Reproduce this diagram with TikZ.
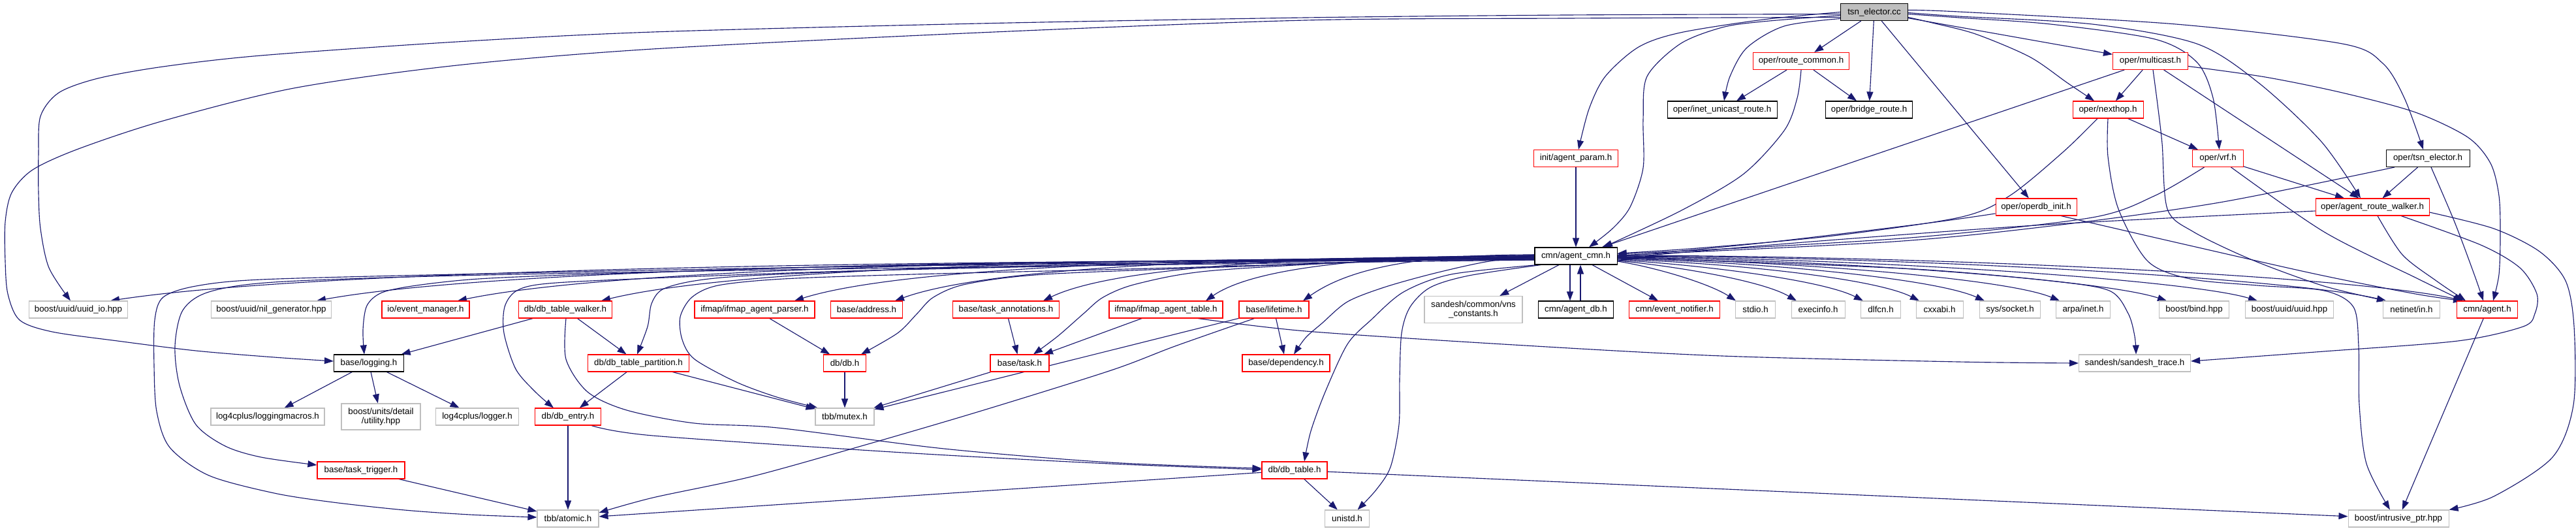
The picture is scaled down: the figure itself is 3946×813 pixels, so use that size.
\documentclass[tikz,border=0pt]{standalone}
\usepackage{fontspec}
\setmainfont{Liberation Sans}
\usetikzlibrary{arrows.meta,calc}
\definecolor{edgeblue}{HTML}{191970}
\definecolor{boxgray}{HTML}{BFBFBF}
\definecolor{boxred}{HTML}{FF0000}
\definecolor{tsnfill}{HTML}{BFBFBF}
\pgfdeclarelayer{bg}
\pgfdeclarelayer{paper}
\pgfsetlayers{paper,bg,main}
\tikzset{
  box/.style={draw, line width=0.8pt, fill=white, minimum height=19.5pt, inner sep=1pt, font=\fontsize{10}{11}\selectfont, align=center},
  rbox/.style={box, draw=boxred},
  kbox/.style={box, draw=black},
  gbox/.style={box, draw=boxgray},
  bw/.style={minimum width=#1*0.75pt},
  dep/.style={draw=edgeblue, line width=0.85pt, -{Triangle[length=10.5pt,width=7.5pt]}},
  sm/.style={smooth, tension=0.5}
}
\begin{document}
\begin{tikzpicture}[x=0.75pt, y=-0.75pt]
\useasboundingbox (0,0) rectangle (3946,813);
\begin{pgfonlayer}{paper}
\fill[white] (0,0) rectangle (3946,813);
\end{pgfonlayer}
% ---- nodes ----
\node[kbox, fill=tsnfill, bw=103] (T) at (2871,18.5) {tsn\_elector.cc};
\node[rbox, bw=147] (RC) at (2759,93.5) {oper/route\_common.h};
\node[rbox, bw=115] (MC) at (3294,93.5) {oper/multicast.h};
\node[kbox, bw=168] (IUR) at (2638,168) {oper/inet\_unicast\_route.h};
\node[kbox, bw=133] (BR) at (2863,168) {oper/bridge\_route.h};
\node[rbox, bw=108] (NH) at (3229,168) {oper/nexthop.h};
\node[rbox, bw=129] (AP) at (2414,242.5) {init/agent\_param.h};
\node[rbox, bw=78] (VRF) at (3397.5,242.5) {oper/vrf.h};
\node[kbox, bw=128] (TH) at (3719,242.5) {oper/tsn\_elector.h};
\node[rbox, bw=124] (OI) at (3119,317) {oper/operdb\_init.h};
\node[rbox, bw=174] (ARW) at (3634,317) {oper/agent\_route\_walker.h};
\node[kbox, bw=126] (AC) at (2414,392) {cmn/agent\_cmn.h};
% row 6
\node[gbox, bw=151] (UIO) at (120,474) {boost/uuid/uuid\_io.hpp};
\node[gbox, bw=184] (NIL) at (415.5,474) {boost/uuid/nil\_generator.hpp};
\node[rbox, bw=134] (EM) at (652,474) {io/event\_manager.h};
\node[rbox, bw=143] (DTW) at (866,474) {db/db\_table\_walker.h};
\node[rbox, bw=184] (IAP) at (1156,474) {ifmap/ifmap\_agent\_parser.h};
\node[rbox, bw=110] (ADDR) at (1327.5,474) {base/address.h};
\node[rbox, bw=163] (TA) at (1541,474) {base/task\_annotations.h};
\node[rbox, bw=174] (IAT) at (1786,474) {ifmap/ifmap\_agent\_table.h};
\node[rbox, bw=107] (LT) at (1951.5,474) {base/lifetime.h};
\node[gbox, bw=150, minimum height=30.75pt] (VNS) at (2257,474) {sandesh/common/vns\\\_constants.h};
\node[kbox, bw=115] (ADB) at (2414,474) {cmn/agent\_db.h};
\node[rbox, bw=139] (EN) at (2565,474) {cmn/event\_notifier.h};
\node[gbox, bw=61] (STDIO) at (2689,474) {stdio.h};
\node[gbox, bw=82] (EXEC) at (2785,474) {execinfo.h};
\node[gbox, bw=61] (DLFCN) at (2881,474) {dlfcn.h};
\node[gbox, bw=72] (CXX) at (2971,474) {cxxabi.h};
\node[gbox, bw=93] (SOCK) at (3079,474) {sys/socket.h};
\node[gbox, bw=83] (INET) at (3191,474) {arpa/inet.h};
\node[gbox, bw=107] (BIND) at (3361,474) {boost/bind.hpp};
\node[gbox, bw=135] (UUID) at (3507,474) {boost/uuid/uuid.hpp};
\node[gbox, bw=87] (NETIN) at (3694,474) {netinet/in.h};
\node[rbox, bw=93] (AGT) at (3810,474) {cmn/agent.h};
% row 7
\node[kbox, bw=107] (LOG) at (565,556) {base/logging.h};
\node[rbox, bw=155] (DTP) at (978,556) {db/db\_table\_partition.h};
\node[rbox, bw=65] (DB) at (1294,556) {db/db.h};
\node[rbox, bw=90] (TASK) at (1562,556) {base/task.h};
\node[rbox, bw=134] (DEP) at (1970,556) {base/dependency.h};
\node[gbox, bw=171] (ST) at (3270,556) {sandesh/sandesh\_trace.h};
% row 8
\node[gbox, bw=174] (LM) at (410,638) {log4cplus/loggingmacros.h};
\node[gbox, bw=121, minimum height=30pt] (UTIL) at (583.5,638) {boost/units/detail\\/utility.hpp};
\node[gbox, bw=127] (LG) at (731,638) {log4cplus/logger.h};
\node[rbox, bw=101] (DE) at (870,638) {db/db\_entry.h};
\node[gbox, bw=90] (MTX) at (1294,638) {tbb/mutex.h};
% row 9
\node[rbox, bw=134] (TT) at (553,720) {base/task\_trigger.h};
\node[rbox, bw=100] (DT) at (1983,720) {db/db\_table.h};
% row 10
\node[gbox, bw=94] (ATM) at (870,794) {tbb/atomic.h};
\node[gbox, bw=68] (UNI) at (2063.5,794) {unistd.h};
\node[gbox, bw=154] (IP) at (3674,794) {boost/intrusive\_ptr.hpp};

\begin{pgfonlayer}{bg}
% ---- tsn_elector.cc ----
\draw[dep] plot[sm] coordinates {($(T.west)+(0,3)$) (2400,23) (2000,27) (1500,36) (1000,49) (700,64) (400,85) (250,102) (150,120) (90,142) (62,178) (59,235) (59,295) (62,350) (75,410) ($(UIO.north)+(-12,0)$)};
\draw[dep] plot[sm] coordinates {($(T.west)+(0,8)$) (2400,28) (2000,31) (1500,50) (1000,75) (700,100) (450,135) (250,185) (120,228) (50,260) (18,295) (8,340) (8,400) (12,450) (30,490) (80,508) (180,522) (300,537) (420,547) ($(LOG.west)+(0,-3)$)};
\draw[dep] plot[sm] coordinates {($(T.west)+(0,5)$) (2700,33) (2638,42) (2574,67) (2523,117) (2517,183) (2517,257) (2497,317) (2470,350) ($(AC.north)+(20,0)$)};
\draw[dep] plot[sm] coordinates {($(T.west)+(0,0)$) (2701,30) (2574,50) (2510,72) (2459,117) (2434,167) ($(AP.north)+(4,0)$)};
\draw[dep] plot[sm] coordinates {($(T.west)+(0,10)$) (2733,40) (2676,73) (2650,117) ($(IUR.north)+(3,0)$)};
\draw[dep] (T) -- (RC);
\draw[dep] (T) -- (BR);
\draw[dep] (T) -- (OI);
\draw[dep] (T) -- (MC);
\draw[dep] plot[sm] coordinates {($(T.east)+(0,8)$) (2960,35) (3026,52) (3109,87) (3167,127) ($(NH.north)+(-21,0)$)};
\draw[dep] plot[sm] coordinates {($(T.east)+(0,3)$) (3000,27) (3141,37) (3301,60) (3365,95) (3390,150) ($(VRF.north)+(2,0)$)};
\draw[dep] plot[sm] coordinates {($(T.east)+(0,1)$) (3000,25) (3205,37) (3365,67) (3460,127) (3556,217) ($(ARW.north)+(-18,0)$)};
\draw[dep] plot[sm] coordinates {($(T.east)+(0,-3)$) (3000,18) (3333,37) (3588,67) (3650,97) (3683,150) ($(TH.north)+(-7,0)$)};
% ---- oper headers ----
\draw[dep] (RC) -- (IUR);
\draw[dep] (RC) -- (BR);
\draw[dep] plot[sm] coordinates {(RC.south) (2753,150) (2733,200) (2670,267) (2574,323) ($(AC.north)+(42,0)$)};
\draw[dep] (AP) -- (AC);
\draw[dep] (MC) -- (NH);
\draw[dep] (MC) -- (AC);
\draw[dep] (MC) -- (ARW);
\draw[dep] plot[sm] coordinates {($(MC.east)+(0,8)$) (3470,118) (3588,142) (3700,172) (3780,210) (3815,250) (3828,300) (3830,360) (3828,420) ($(AGT.north)+(9,0)$)};
\draw[dep] plot[sm] coordinates {($(MC.south)+(4,0)$) (3305,160) (3312,220) (3320,320) (3360,355) (3450,398) (3560,438) ($(NETIN.north)+(-39,0)$)};
\draw[dep] (NH) -- (VRF);
\draw[dep] plot[sm] coordinates {($(NH.south)+(-16,0)$) (3160,233) (3078,300) (3001,333) (2800,362) (2600,380) ($(AC.east)+(0,-4)$)};
\draw[dep] plot[sm] coordinates {(NH.south) (3229,240) (3245,320) (3290,400) (3355,427) (3458,437) (3560,445) (3605,470) (3613,530) (3614,620) (3625,710) ($(IP.north)+(-13,0)$)};
\draw[dep] plot[sm] coordinates {($(VRF.south)+(-21,0)$) (3300,300) (3205,333) (2950,362) (2700,378) ($(AC.east)+(0,-3)$)};
\draw[dep] (VRF) -- (ARW);
\draw[dep] plot[sm] coordinates {($(VRF.south)+(20,0)$) (3560,355) (3700,425) ($(AGT.north)+(-37,0)$)};
\draw[dep] plot[sm] coordinates {($(TH.south)+(-51,0)$) (3400,310) (3150,345) (2900,370) ($(AC.east)+(0,-1)$)};
\draw[dep] (TH) -- (ARW);
\draw[dep] plot[sm] coordinates {($(TH.south)+(5,0)$) (3760,340) (3790,420) ($(AGT.north)+(-6,0)$)};
\draw[dep] plot[sm] coordinates {($(OI.west)+(0,10)$) (2950,342) (2700,372) ($(AC.east)+(0,1)$)};
\draw[dep] plot[sm] coordinates {($(OI.south)+(38,0)$) (3350,375) (3549,420) (3700,450) ($(AGT.north)+(-38,0)$)};
\draw[dep] plot[sm] coordinates {($(ARW.west)+(0,6)$) (3150,343) (2800,368) ($(AC.east)+(0,3)$)};
\draw[dep] plot[sm] coordinates {($(ARW.south)+(8,0)$) (3680,390) (3732,430) ($(AGT.north)+(-33,0)$)};
\draw[dep] plot[sm] coordinates {($(ARW.south)+(44,0)$) (3800,375) (3860,410) (3886,450) (3883,480) (3865,500) (3765,522) (3560,538) ($(ST.east)+(0,-3)$)};
\draw[dep] plot[sm] coordinates {($(ARW.east)+(0,8)$) (3820,350) (3890,385) (3930,430) (3943,500) (3942,620) (3910,700) (3820,760) (IP.north east)};
% ---- agent_cmn.h fan, left ----
\draw[dep] ($(AC.west)+(0,6)$) .. controls (1413,398) and (496,411) .. ($(UIO.north)+(49,0)$);
\draw[dep] ($(AC.west)+(0,5)$) .. controls (1549,397) and (765,410) .. ($(NIL.north)+(69.5,0)$);
\draw[dep] ($(AC.west)+(0,4)$) .. controls (1642,396) and (949,409) .. ($(EM.north)+(49,0)$);
\draw[dep] ($(AC.west)+(0,3)$) .. controls (1736,395) and (1136,408) .. ($(DTW.north)+(55,0)$);
\draw[dep] ($(AC.west)+(0,2)$) .. controls (1863,394) and (1387,407) .. ($(IAP.north)+(61,0)$);
\draw[dep] ($(AC.west)+(0,1)$) .. controls (1930,393) and (1518,407) .. ($(ADDR.north)+(43.5,0)$);
\draw[dep] ($(AC.west)+(0,0)$) .. controls (2027,392) and (1711,406) .. ($(TA.north)+(57,0)$);
\draw[dep] ($(AC.west)+(0,-1)$) .. controls (2134,391) and (1927,405) .. ($(IAT.north)+(61,0)$);
\draw[dep] ($(AC.west)+(0,-2)$) .. controls (2198,390) and (2076,404) .. ($(LT.north)+(44.5,0)$);
\draw[dep] plot[sm] coordinates {($(AC.west)+(0,4)$) (1800,400) (1300,408) (900,420) (733,427) (638,437) (585,448) (562,468) (556,505) ($(LOG.north)+(-7,0)$)};
\draw[dep] plot[sm] coordinates {($(AC.west)+(0,3)$) (1800,402) (1400,412) (1150,422) (1064,430) (1015,443) (998,465) (992,500) ($(DTP.north)+(-2,0)$)};
\draw[dep] plot[sm] coordinates {($(AC.west)+(0,2)$) (1800,404) (1300,415) (950,428) (830,435) (790,446) (773,470) (772,510) (790,565) (820,600) ($(DE.north)+(-22,0)$)};
\draw[dep] plot[sm] coordinates {($(AC.west)+(0,5)$) (1800,402) (1200,410) (700,420) (400,428) (300,438) (250,455) (237,490) (236,560) (240,630) (260,685) (320,728) (420,755) (510,769) (620,781) (720,788) ($(ATM.west)+(0,-2)$)};
\draw[dep] plot[sm] coordinates {($(AC.west)+(0,6)$) (1800,405) (1200,413) (700,422) (420,432) (320,447) (280,475) (268,530) (275,590) (300,650) (345,683) (400,700) ($(TT.west)+(0,-8)$)};
\draw[dep] plot[sm] coordinates {($(AC.west)+(0,1)$) (1800,410) (1400,420) (1200,427) (1100,437) (1060,455) (1042,485) (1045,520) (1064,550) (1128,585) (1190,608) ($(MTX.north west)+(4,0)$)};
\draw[dep] plot[sm] coordinates {($(AC.west)+(0,0)$) (1900,408) (1600,420) (1480,435) (1430,455) (1405,480) (1375,510) ($(DB.north)+(25,0)$)};
\draw[dep] plot[sm] coordinates {($(AC.west)+(0,-1)$) (2100,400) (1850,415) (1740,435) (1690,455) (1660,480) (1620,515) ($(TASK.north)+(21,0)$)};
\draw[dep] plot[sm] coordinates {($(AC.west)+(0,-2)$) (2270,402) (2191,420) (2120,440) (2064,462) (2025,495) (2000,517) ($(DEP.north)+(12,0)$)};
\draw[dep] plot[sm] coordinates {($(AC.south west)+(5,0)$) (2223,420) (2150,447) (2100,490) (2064,527) (2030,600) (2008,660) ($(DT.north)+(15,0)$)};
\draw[dep] plot[sm] coordinates {($(AC.south west)+(10,0)$) (2250,422) (2191,440) (2160,470) (2147,510) (2144,580) (2143,650) (2130,715) (2108,750) ($(UNI.north)+(16,0)$)};
\draw[dep] (AC) -- (VNS);
\draw[dep] ($(AC.south)+(-9,0)$) -- ($(ADB.north)+(-9,0)$);
\draw[dep] ($(ADB.north)+(7,0)$) -- ($(AC.south)+(7,0)$);
\draw[dep] (AC) -- (EN);
% ---- agent_cmn.h fan, right ----
\draw[dep] ($(AC.east)+(0,8)$) .. controls (2540,410) and (2620,435) .. ($(STDIO.north)+(-30,0)$);
\draw[dep] ($(AC.east)+(0,7)$) .. controls (2570,408) and (2700,430) .. ($(EXEC.north)+(-33,0)$);
\draw[dep] ($(AC.east)+(0,6)$) .. controls (2600,405) and (2790,428) .. ($(DLFCN.north)+(-27,0)$);
\draw[dep] ($(AC.east)+(0,5)$) .. controls (2640,402) and (2870,425) .. ($(CXX.north)+(-31,0)$);
\draw[dep] ($(AC.east)+(0,4)$) .. controls (2680,400) and (2960,425) .. ($(SOCK.north)+(-39,0)$);
\draw[dep] ($(AC.east)+(0,3)$) .. controls (2720,399) and (3070,425) .. ($(INET.north)+(-36,0)$);
\draw[dep] ($(AC.east)+(0,2)$) .. controls (2800,397) and (3220,428) .. ($(BIND.north)+(-42,0)$);
\draw[dep] ($(AC.east)+(0,1)$) .. controls (2850,395) and (3350,428) .. ($(UUID.north)+(-49,0)$);
\draw[dep] ($(AC.east)+(0,0)$) .. controls (2950,393) and (3520,428) .. ($(NETIN.north)+(-39,0)$);
\draw[dep] ($(AC.east)+(0,-1)$) .. controls (3000,392) and (3620,425) .. ($(AGT.north)+(-37,0)$);
\draw[dep] plot[sm] coordinates {($(AC.east)+(0,2)$) (2700,402) (2950,413) (3141,430) (3231,445) (3260,480) (3270,515) ($(ST.north)+(2,0)$)};
% ---- lower levels ----
\draw[dep] (AGT) -- (IP);
\draw[dep] (DTW) -- (LOG);
\draw[dep] (DTW) -- (DTP);
\draw[dep] plot[sm] coordinates {($(DTW.south)+(1,0)$) (867,550) (900,600) (960,628) (1064,648) (1191,655) (1446,687) (1700,708) ($(DT.west)+(0,-3)$)};
\draw[dep] (LOG) -- (LM);
\draw[dep] (LOG) -- (UTIL);
\draw[dep] (LOG) -- (LG);
\draw[dep] (DTP) -- (DE);
\draw[dep] (DTP) -- (MTX);
\draw[dep] (DE) -- (ATM);
\draw[dep] plot[sm] coordinates {($(DE.south)+(36,0)$) (1000,667) (1383,693) (1700,710) ($(DT.west)+(0,-1)$)};
\draw[dep] (TT) -- (ATM);
\draw[dep] (IAP) -- (DB);
\draw[dep] (DB) -- (MTX);
\draw[dep] (TA) -- (TASK);
\draw[dep] (IAT) -- (TASK);
\draw[dep] (TASK) -- (MTX);
\draw[dep] plot[sm] coordinates {($(IAT.south)+(49,0)$) (2000,507) (2319,528) (2638,545) (3000,554) (ST.west)};
\draw[dep] (LT) -- (MTX);
\draw[dep] plot[sm] coordinates {($(LT.south)+(-30,0)$) (1800,530) (1702,567) (1500,630) (1319,683) (1150,730) (1000,762) ($(ATM.east)+(0,-9)$)};
\draw[dep] (LT) -- (DEP);
\draw[dep] (DT) -- (ATM);
\draw[dep] (DT) -- (UNI);
\draw[dep] (DT) -- (IP);
\end{pgfonlayer}
\end{tikzpicture}
\end{document}
